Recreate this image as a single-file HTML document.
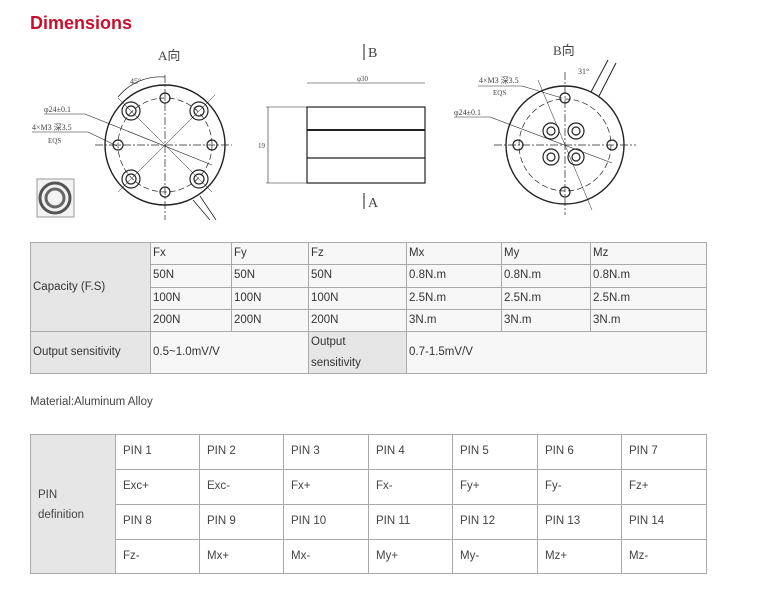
<!DOCTYPE html>
<html><head><meta charset="utf-8"><style>
body{margin:0;width:768px;height:591px;background:#fff;position:relative;font-family:"Liberation Sans",sans-serif;overflow:hidden}
.t{position:absolute;font-size:11.5px;color:#444}
.c{position:absolute;box-sizing:border-box;border:1.5px solid #aaa;font-size:11.5px;color:#333;padding-left:2px;line-height:20px}
.g{background:#e6e6e6}.l{background:#f7f7f7}
.w{background:#fff;padding-left:7px;line-height:33px;color:#444}
</style></head><body>
<div style="position:absolute;left:30px;top:13px;font-size:18px;font-weight:bold;color:#c8102e">Dimensions</div>
<svg width="768" height="230" style="position:absolute;left:0;top:0" stroke="#222" fill="none" font-family="Liberation Serif">
<text x="158" y="60" font-size="13" fill="#444" stroke="none">A向</text>
<circle cx="165" cy="145" r="60" stroke-width="1.4"/>
<circle cx="165" cy="145" r="47" stroke-dasharray="6 3" stroke-width=".7"/>
<line x1="95" y1="145" x2="232" y2="145" stroke-dasharray="8 2 2 2" stroke-width=".7"/>
<line x1="165" y1="75" x2="165" y2="220" stroke-dasharray="8 2 2 2" stroke-width=".7"/>
<line x1="118" y1="192" x2="215" y2="95" stroke-width=".5"/><line x1="118" y1="98" x2="212" y2="192" stroke-width=".5"/>
<g stroke-width="1.2"><circle cx="165" cy="98" r="5"/><circle cx="165" cy="192" r="5"/><circle cx="118" cy="145" r="5"/><circle cx="212" cy="145" r="5"/>
<circle cx="131" cy="111" r="9"/><circle cx="131" cy="111" r="5"/><circle cx="199" cy="111" r="9"/><circle cx="199" cy="111" r="5"/>
<circle cx="131" cy="179" r="9"/><circle cx="131" cy="179" r="5"/><circle cx="199" cy="179" r="9"/><circle cx="199" cy="179" r="5"/></g>
<path d="M118 97 A55 55 0 0 1 165 77" stroke-width=".7"/>
<text x="130" y="84" font-size="8" fill="#444" stroke="none">45°</text>
<text x="44" y="112" font-size="8" fill="#444" stroke="none">φ24±0.1</text>
<line x1="44" y1="114" x2="85" y2="114" stroke-width=".6"/><line x1="85" y1="114" x2="212" y2="165" stroke-width=".6"/>
<text x="32" y="130" font-size="8" fill="#444" stroke="none">4×M3 深3.5</text>
<line x1="32" y1="132" x2="88" y2="132" stroke-width=".6"/><line x1="88" y1="132" x2="117" y2="146" stroke-width=".6"/>
<text x="48" y="143" font-size="7" fill="#444" stroke="none">EQS</text>
<line x1="193" y1="200" x2="210" y2="220" stroke-width=".8"/><line x1="200" y1="196" x2="216" y2="220" stroke-width=".8"/>
<rect x="37" y="179" width="37" height="38" stroke="#999" fill="#f3f3f3"/>
<circle cx="55" cy="198" r="15" stroke-width="3" stroke="#555"/><circle cx="55" cy="198" r="9" stroke-width="3" stroke="#666"/>
<text x="368" y="57" font-size="14" fill="#444" stroke="none">B</text><line x1="364" y1="44" x2="364" y2="60"/>
<text x="368" y="207" font-size="14" fill="#444" stroke="none">A</text><line x1="364" y1="193" x2="364" y2="209"/>
<text x="357" y="81" font-size="7" fill="#444" stroke="none">φ30</text>
<line x1="307" y1="83" x2="425" y2="83" stroke-width=".6"/>
<rect x="307" y="107" width="118" height="76" stroke-width="1.2"/>
<line x1="307" y1="130" x2="425" y2="130" stroke-width="2"/><line x1="307" y1="158" x2="425" y2="158" stroke-width="1.2"/>
<line x1="266" y1="107" x2="307" y2="107" stroke-width=".6"/><line x1="266" y1="183" x2="307" y2="183" stroke-width=".6"/>
<line x1="268" y1="107" x2="268" y2="183" stroke-width=".6"/>
<text x="258" y="148" font-size="7" fill="#444" stroke="none">19</text>
<text x="553" y="55" font-size="13" fill="#444" stroke="none">B向</text>
<circle cx="565" cy="145" r="59" stroke-width="1.4"/>
<circle cx="565" cy="145" r="46" stroke-dasharray="6 3" stroke-width=".7"/>
<line x1="494" y1="145" x2="636" y2="145" stroke-dasharray="8 2 2 2" stroke-width=".7"/>
<line x1="565" y1="72" x2="565" y2="215" stroke-dasharray="8 2 2 2" stroke-width=".7"/>
<line x1="538" y1="80" x2="592" y2="210" stroke-width=".5"/>
<g stroke-width="1.2"><circle cx="565" cy="98" r="5"/><circle cx="565" cy="192" r="5"/><circle cx="518" cy="145" r="5"/><circle cx="612" cy="145" r="5"/>
<circle cx="551" cy="131" r="8"/><circle cx="551" cy="131" r="4"/><circle cx="576" cy="131" r="8"/><circle cx="576" cy="131" r="4"/>
<circle cx="551" cy="157" r="8"/><circle cx="551" cy="157" r="4"/><circle cx="576" cy="157" r="8"/><circle cx="576" cy="157" r="4"/></g>
<line x1="591" y1="92" x2="608" y2="60" stroke-width="1"/><line x1="599" y1="96" x2="616" y2="63" stroke-width="1"/>
<text x="578" y="74" font-size="8" fill="#444" stroke="none">31°</text>
<text x="479" y="83" font-size="8" fill="#444" stroke="none">4×M3 深3.5</text>
<line x1="478" y1="86" x2="522" y2="86" stroke-width=".6"/><line x1="522" y1="86" x2="562" y2="98" stroke-width=".6"/>
<text x="493" y="95" font-size="7" fill="#444" stroke="none">EQS</text>
<text x="454" y="115" font-size="8" fill="#444" stroke="none">φ24±0.1</text>
<line x1="454" y1="117" x2="490" y2="117" stroke-width=".6"/><line x1="490" y1="117" x2="612" y2="163" stroke-width=".6"/>
</svg>

<div class="c g" style="left:30px;top:242px;width:121px;height:90px;line-height:88px">Capacity (F.S)</div>
<div class="c l" style="left:150px;top:242px;width:82px;height:23px">Fx</div>
<div class="c l" style="left:231px;top:242px;width:78px;height:23px">Fy</div>
<div class="c l" style="left:308px;top:242px;width:99px;height:23px">Fz</div>
<div class="c l" style="left:406px;top:242px;width:96px;height:23px">Mx</div>
<div class="c l" style="left:501px;top:242px;width:90px;height:23px">My</div>
<div class="c l" style="left:590px;top:242px;width:117px;height:23px">Mz</div>
<div class="c l" style="left:150px;top:264px;width:82px;height:24px">50N</div>
<div class="c l" style="left:231px;top:264px;width:78px;height:24px">50N</div>
<div class="c l" style="left:308px;top:264px;width:99px;height:24px">50N</div>
<div class="c l" style="left:406px;top:264px;width:96px;height:24px">0.8N.m</div>
<div class="c l" style="left:501px;top:264px;width:90px;height:24px">0.8N.m</div>
<div class="c l" style="left:590px;top:264px;width:117px;height:24px">0.8N.m</div>
<div class="c l" style="left:150px;top:287px;width:82px;height:23px">100N</div>
<div class="c l" style="left:231px;top:287px;width:78px;height:23px">100N</div>
<div class="c l" style="left:308px;top:287px;width:99px;height:23px">100N</div>
<div class="c l" style="left:406px;top:287px;width:96px;height:23px">2.5N.m</div>
<div class="c l" style="left:501px;top:287px;width:90px;height:23px">2.5N.m</div>
<div class="c l" style="left:590px;top:287px;width:117px;height:23px">2.5N.m</div>
<div class="c l" style="left:150px;top:309px;width:82px;height:23px">200N</div>
<div class="c l" style="left:231px;top:309px;width:78px;height:23px">200N</div>
<div class="c l" style="left:308px;top:309px;width:99px;height:23px">200N</div>
<div class="c l" style="left:406px;top:309px;width:96px;height:23px">3N.m</div>
<div class="c l" style="left:501px;top:309px;width:90px;height:23px">3N.m</div>
<div class="c l" style="left:590px;top:309px;width:117px;height:23px">3N.m</div>
<div class="c g" style="left:30px;top:331px;width:121px;height:43px;line-height:41px">Output sensitivity</div>
<div class="c l" style="left:150px;top:331px;width:159px;height:43px;line-height:41px">0.5~1.0mV/V</div>
<div class="c g" style="left:308px;top:331px;width:99px;height:43px;line-height:21px">Output<br>sensitivity</div>
<div class="c l" style="left:406px;top:331px;width:301px;height:43px;line-height:41px">0.7-1.5mV/V</div>

<div class="t" style="left:30px;top:396px">Material:Aluminum Alloy</div>

<div class="c g" style="left:30px;top:434px;width:86px;height:140px;line-height:20px;padding:50px 0 0 7px;color:#444">PIN<br>definition</div>
<div class="c w" style="left:115px;top:434px;width:85px;height:36px">PIN 1</div>
<div class="c w" style="left:199px;top:434px;width:85px;height:36px">PIN 2</div>
<div class="c w" style="left:283px;top:434px;width:86px;height:36px">PIN 3</div>
<div class="c w" style="left:368px;top:434px;width:85px;height:36px">PIN 4</div>
<div class="c w" style="left:452px;top:434px;width:86px;height:36px">PIN 5</div>
<div class="c w" style="left:537px;top:434px;width:85px;height:36px">PIN 6</div>
<div class="c w" style="left:621px;top:434px;width:86px;height:36px">PIN 7</div>
<div class="c w" style="left:115px;top:469px;width:85px;height:36px">Exc+</div>
<div class="c w" style="left:199px;top:469px;width:85px;height:36px">Exc-</div>
<div class="c w" style="left:283px;top:469px;width:86px;height:36px">Fx+</div>
<div class="c w" style="left:368px;top:469px;width:85px;height:36px">Fx-</div>
<div class="c w" style="left:452px;top:469px;width:86px;height:36px">Fy+</div>
<div class="c w" style="left:537px;top:469px;width:85px;height:36px">Fy-</div>
<div class="c w" style="left:621px;top:469px;width:86px;height:36px">Fz+</div>
<div class="c w" style="left:115px;top:504px;width:85px;height:36px">PIN 8</div>
<div class="c w" style="left:199px;top:504px;width:85px;height:36px">PIN 9</div>
<div class="c w" style="left:283px;top:504px;width:86px;height:36px">PIN 10</div>
<div class="c w" style="left:368px;top:504px;width:85px;height:36px">PIN 11</div>
<div class="c w" style="left:452px;top:504px;width:86px;height:36px">PIN 12</div>
<div class="c w" style="left:537px;top:504px;width:85px;height:36px">PIN 13</div>
<div class="c w" style="left:621px;top:504px;width:86px;height:36px">PIN 14</div>
<div class="c w" style="left:115px;top:539px;width:85px;height:35px">Fz-</div>
<div class="c w" style="left:199px;top:539px;width:85px;height:35px">Mx+</div>
<div class="c w" style="left:283px;top:539px;width:86px;height:35px">Mx-</div>
<div class="c w" style="left:368px;top:539px;width:85px;height:35px">My+</div>
<div class="c w" style="left:452px;top:539px;width:86px;height:35px">My-</div>
<div class="c w" style="left:537px;top:539px;width:85px;height:35px">Mz+</div>
<div class="c w" style="left:621px;top:539px;width:86px;height:35px">Mz-</div>
</body></html>
